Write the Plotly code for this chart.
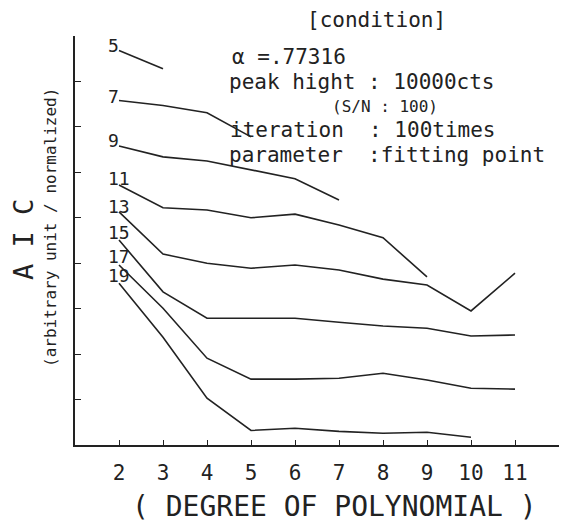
import plotly.graph_objects as go

# ---- data ----
degrees = [2, 3, 4, 5, 6, 7, 8, 9, 10, 11]
fitting_points = [5, 7, 9, 11, 13, 15, 17, 19]

aic_5 = [8.68, 8.28]
aic_7 = [7.58, 7.47, 7.31, 6.78]
aic_9 = [6.58, 6.34, 6.25, 6.05, 5.86, 5.39]
aic_11 = [5.72, 5.22, 5.17, 5.00, 5.08, 4.84, 4.56, 3.70]
aic_13 = [5.13, 4.20, 4.00, 3.89, 3.96, 3.85, 3.65, 3.52, 2.95, 3.78]
aic_15 = [4.51, 3.37, 2.79, 2.79, 2.79, 2.70, 2.62, 2.57, 2.40, 2.42]
aic_17 = [3.96, 3.01, 1.91, 1.45, 1.45, 1.47, 1.58, 1.43, 1.25, 1.23]
aic_19 = [3.56, 2.37, 1.03, 0.32, 0.37, 0.30, 0.26, 0.28, 0.17]

series = [aic_5, aic_7, aic_9, aic_11, aic_13, aic_15, aic_17, aic_19]
label_y_px = [45, 96, 140, 178, 206, 232, 256, 275]

x_ticks = [2, 3, 4, 5, 6, 7, 8, 9, 10, 11]
y_ticks = [1, 2, 3, 4, 5, 6, 7, 8]

condition_lines = [
    ("[condition]", 305, 20, 21),
    ("α =.77316", 230, 57, 21),
    ("peak hight : 10000cts", 227, 82, 21),
    ("(S/N : 100)", 330, 106, 16),
    ("iteration  : 100times", 228, 130, 21),
    ("parameter  :fitting point", 227, 155, 21),
]

MONO = "DejaVu Sans Mono"
INK = "#222222"
OFF = 8  # page body margin
W, H = 586 - OFF, 523 - OFF
L, T = 75 - OFF, 36 - OFF
R = W - (559 - OFF)
B = H - (445 - OFF)
PW, PH = W - L - R, H - T - B


def paper(px, py):
    return (px - OFF - L) / PW, (H - B - (py - OFF)) / PH


fig = go.Figure()
for n, vals in zip(fitting_points, series):
    fig.add_trace(go.Scatter(
        x=degrees[:len(vals)], y=vals, mode="lines",
        line=dict(color=INK, width=1.6),
        name=str(n), showlegend=False, hoverinfo="skip",
    ))

annotations = []
for n, py in zip(fitting_points, label_y_px):
    xp, yp = paper(106, py)
    annotations.append(dict(text=str(n), x=xp, y=yp, xref="paper", yref="paper",
                            xanchor="left", yanchor="middle", showarrow=False,
                            font=dict(family=MONO, size=18, color=INK)))

for text, px, py, size in condition_lines:
    xp, yp = paper(px, py)
    annotations.append(dict(text=text, x=xp, y=yp, xref="paper", yref="paper",
                            xanchor="left", yanchor="middle", showarrow=False,
                            font=dict(family=MONO, size=size, color=INK)))

xp, yp = paper(334, 507)
annotations.append(dict(text="( DEGREE OF POLYNOMIAL )", x=xp, y=yp, xref="paper", yref="paper",
                        xanchor="center", yanchor="middle", showarrow=False,
                        font=dict(family=MONO, size=28, color=INK)))
xp, yp = paper(23, 240)
annotations.append(dict(text="A I C", x=xp, y=yp, xref="paper", yref="paper", textangle=-90,
                        xanchor="center", yanchor="middle", showarrow=False,
                        font=dict(family=MONO, size=27, color=INK)))
xp, yp = paper(50, 228)
annotations.append(dict(text="(arbitrary unit / normalized)", x=xp, y=yp, xref="paper", yref="paper",
                        textangle=-90, xanchor="center", yanchor="middle", showarrow=False,
                        font=dict(family=MONO, size=16, color=INK)))

fig.update_layout(
    width=W, height=H, autosize=False,
    margin=dict(l=L, r=R, t=T, b=B, pad=0),
    paper_bgcolor="white", plot_bgcolor="white",
    annotations=annotations,
    xaxis=dict(range=[1, 12], tickvals=x_ticks, ticktext=[str(v) for v in x_ticks],
               showline=True, linecolor=INK, linewidth=1.6, ticks="inside",
               ticklen=5, tickwidth=1.3, tickcolor=INK, showgrid=False, zeroline=False,
               ticklabelstandoff=8,
               tickfont=dict(family=MONO, size=21, color=INK)),
    yaxis=dict(range=[0, 9], tickvals=y_ticks, showticklabels=False,
               showline=True, linecolor=INK, linewidth=1.6, ticks="inside",
               ticklen=6, tickwidth=1.3, tickcolor=INK, showgrid=False, zeroline=False),
)

fig.write_html("out.html")
